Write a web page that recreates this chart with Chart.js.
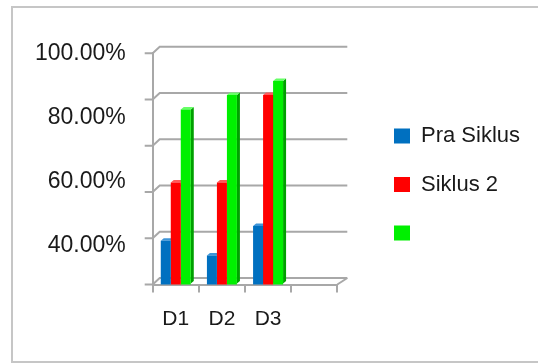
<!DOCTYPE html>
<html>
<head>
<meta charset="utf-8">
<script src="https://cdn.jsdelivr.net/npm/chart.js@4"></script>
<style>
  html, body { margin: 0; padding: 0; background: #ffffff; overflow: hidden; }
  #wrap { position: relative; width: 538px; height: 363px; }
  #frame { position: absolute; left: 11px; top: 6px; width: 600px; height: 357px; border: 2px solid #c6c6c6; box-sizing: border-box; }
  #c { position: absolute; left: 0; top: 0; }
</style>
</head>
<body>
<div id="wrap">
  <div id="frame"></div>
  <canvas id="c" width="538" height="363"></canvas>
</div>
<script>
// ---- data ----
const categories = ['D1', 'D2', 'D3', ''];
const seriesNames = ['Pra Siklus', 'Siklus 2', ''];
const praSiklus = [41.6, 37.0, 46.2];
const siklus2 = [59.8, 59.8, 87.0];
const series3 = [82.5, 87.0, 91.4];
const yTickValues = [100, 80, 60, 40];

const frontColors = ['#0070c0', '#ff0000', '#00f000'];
const sideColors = ['#00467a', '#a80000', '#00a000'];
const topColors = ['#3f95d8', '#ff5a5a', '#66ff66'];
const gridColor = '#a8a8a8';
const textColor = '#1a1a1a';

const legendFont = '22px "Liberation Sans"';
const legendPad = 26.5, legendBox = 16, legendFontSize = 22;
const mctx = document.createElement('canvas').getContext('2d');
mctx.font = legendFont;
const longest = Math.max(...seriesNames.map(s => mctx.measureText(s).width));
const legendW = Math.ceil(legendPad + legendBox + legendFontSize / 2 + longest + 2);
const legendLeft = 367.5;
const padRight = Math.max(0, 538 - legendLeft - legendW);

const depthPlugin = {
  id: 'depth3d',
  beforeDatasetsDraw(chart) {
    const ctx = chart.ctx;
    const { left, right, top, bottom } = chart.chartArea;
    const dx = 7, dy = 6.5;
    ctx.save();
    ctx.strokeStyle = gridColor;
    ctx.lineWidth = 2;
    ctx.lineCap = 'butt';
    const n = 5;
    for (let k = 0; k <= n; k++) {
      const yf = top + (bottom - top) * k / n;
      ctx.beginPath();
      ctx.moveTo(left - 8, yf);
      ctx.lineTo(left, yf);
      ctx.lineTo(left + dx, yf - dy);
      ctx.lineTo(right + 10, yf - dy);
      ctx.stroke();
    }
    ctx.beginPath();
    ctx.moveTo(right, bottom);
    ctx.lineTo(right + 10, bottom - dy);
    ctx.stroke();

    // bar depth faces (drawn behind the front faces)
    const d = 3, dd = 2.5;
    chart.data.datasets.forEach((ds, i) => {
      const meta = chart.getDatasetMeta(i);
      meta.data.forEach(el => {
        const p = el.getProps(['x', 'y', 'base', 'width'], true);
        const base = Math.min(p.base, bottom - 1);
        const l = p.x - p.width / 2, r = p.x + p.width / 2;
        ctx.fillStyle = sideColors[i];
        ctx.beginPath();
        ctx.moveTo(r, p.y);
        ctx.lineTo(r + d, p.y - dd);
        ctx.lineTo(r + d, base - dd);
        ctx.lineTo(r, base);
        ctx.closePath();
        ctx.fill();
        ctx.fillStyle = topColors[i];
        ctx.beginPath();
        ctx.moveTo(l, p.y);
        ctx.lineTo(l + d, p.y - dd);
        ctx.lineTo(r + d, p.y - dd);
        ctx.lineTo(r, p.y);
        ctx.closePath();
        ctx.fill();
      });
    });
    ctx.restore();
  }
};

const seriesValues = [praSiklus, siklus2, series3];

new Chart(document.getElementById('c'), {
  type: 'bar',
  data: {
    labels: categories,
    datasets: seriesNames.map((name, i) => ({
      label: name,
      data: seriesValues[i],
      backgroundColor: frontColors[i],
      borderWidth: 0,
      categoryPercentage: 0.65,
      barPercentage: 1.0
    }))
  },
  options: {
    responsive: false,
    animation: false,
    devicePixelRatio: 1,
    layout: { padding: { left: 0, top: 53.3, right: padRight, bottom: 26 } },
    scales: {
      x: {
        type: 'category',
        offset: true,
        grid: { display: true, drawOnChartArea: false, drawTicks: true, tickLength: 8, offset: true, color: gridColor, lineWidth: 2 },
        border: { display: true, color: gridColor, width: 2 },
        ticks: { color: textColor, padding: 14, font: { family: 'Liberation Sans', size: 21 }, maxRotation: 0, autoSkip: false },
        afterFit(scale) { scale.height = 52.5; }
      },
      y: {
        type: 'linear',
        position: 'left',
        min: 28,
        max: 100,
        grid: { display: false, drawTicks: false, tickLength: 0 },
        border: { display: true, color: gridColor, width: 2 },
        ticks: {
          color: textColor,
          padding: 27,
          autoSkip: false,
          font: { family: 'Liberation Sans', size: 23 },
          callback: v => Number(v).toFixed(2) + '%'
        },
        afterBuildTicks(scale) { scale.ticks = yTickValues.map(v => ({ value: v })); },
        afterFit(scale) { scale.width = 152.7; }
      },
      yR: {
        type: 'linear',
        position: 'right',
        display: true,
        grid: { display: false },
        border: { display: false },
        ticks: { display: false },
        afterFit(scale) { scale.width = 30.2; }
      }
    },
    plugins: {
      legend: {
        position: 'right',
        align: 'start',
        maxWidth: legendW,
        title: { display: true, text: ' ', font: { size: 10 }, padding: { top: 33.2, bottom: 0 } },
        labels: {
          boxWidth: legendBox,
          boxHeight: 15,
          padding: legendPad,
          color: textColor,
          font: { family: 'Liberation Sans', size: legendFontSize }
        }
      },
      tooltip: { enabled: false }
    }
  },
  plugins: [depthPlugin]
});
</script>
</body>
</html>
